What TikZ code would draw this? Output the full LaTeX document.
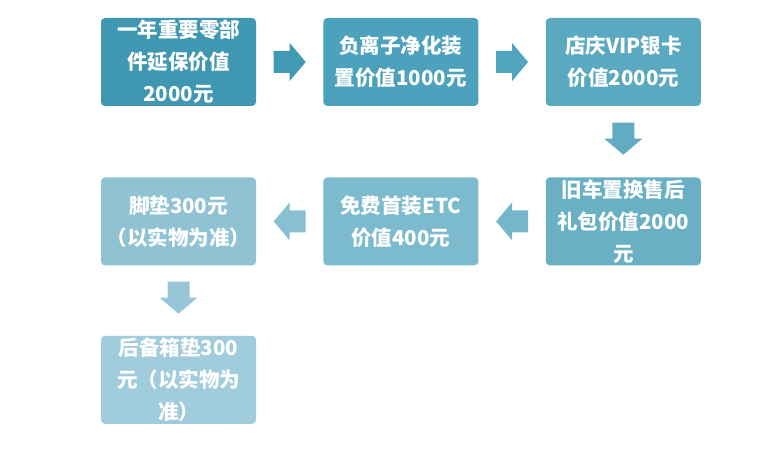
\documentclass[tikz,border=0pt]{standalone}
\usepackage{fontspec}
\newfontfamily\cjk{Noto Sans CJK SC}
\usetikzlibrary{positioning,calc}

\definecolor{tealA}{HTML}{3F97B2}
\definecolor{tealB}{HTML}{4CA2BC}
\definecolor{tealC}{HTML}{5BA9C1}
\definecolor{tealD}{HTML}{69B0C5}
\definecolor{tealE}{HTML}{7CBACD}
\definecolor{tealF}{HTML}{8FC3D4}
\definecolor{tealG}{HTML}{A0CCDB}

% block arrow: centre, angle, colour
\newcommand\blockarrow[3]{%
  \fill[#3,shift={(#1)},rotate=#2] (-16,-11) -- (0,-11) -- (0,-19) -- (16,0)
    -- (0,19) -- (0,11) -- (-16,11) -- cycle;}

\begin{document}
\begin{tikzpicture}[x=1pt,y=-1pt,node distance=71pt and 67pt,
  box/.style={rounded corners=4pt,minimum width=155pt,minimum height=88pt,
    inner sep=0pt,align=center,text=white,
    font=\cjk\bfseries\fontsize{20.5}{32}\selectfont}]
\useasboundingbox (0,0) rectangle (774,449);
\node[box,fill=tealA] (warranty) at (178.5,62) {一年重要零部\\件延保价值\\2000元};
\node[box,fill=tealB,right=of warranty] (purifier) {负离子净化装\\置价值1000元};
\node[box,fill=tealC,right=of purifier] (vipcard) {店庆VIP银卡\\价值2000元};
\node[box,fill=tealD,below=of vipcard] (tradein) {旧车置换售后\\礼包价值2000\\元};
\node[box,fill=tealE,left=of tradein] (etc) {免费首装ETC\\价值400元};
\node[box,fill=tealF,left=of etc] (mats) {脚垫300元\\（以实物为准）};
\node[box,fill=tealG,below=70pt of mats] (trunkmat) {后备箱垫300\\元（以实物为\\准）};

\coordinate (a1) at ($(warranty.east)!0.5!(purifier.west)$);
\coordinate (a2) at ($(purifier.east)!0.5!(vipcard.west)$);
\coordinate (a3) at ($(vipcard.south)!0.5!(tradein.north)+(0,-3)$);
\coordinate (a4) at ($(tradein.west)!0.5!(etc.east)$);
\coordinate (a5) at ($(etc.west)!0.5!(mats.east)$);
\coordinate (a6) at ($(mats.south)!0.5!(trunkmat.north)+(0,-3)$);
\blockarrow{a1}{0}{tealA!80!tealB}
\blockarrow{a2}{0}{tealB!60!tealC}
\blockarrow{a3}{-90}{tealC!60!tealD}
\blockarrow{a4}{180}{tealD!40!tealE}
\blockarrow{a5}{180}{tealE!40!tealF}
\blockarrow{a6}{-90}{tealF!50!tealG}
\end{tikzpicture}
\end{document}
